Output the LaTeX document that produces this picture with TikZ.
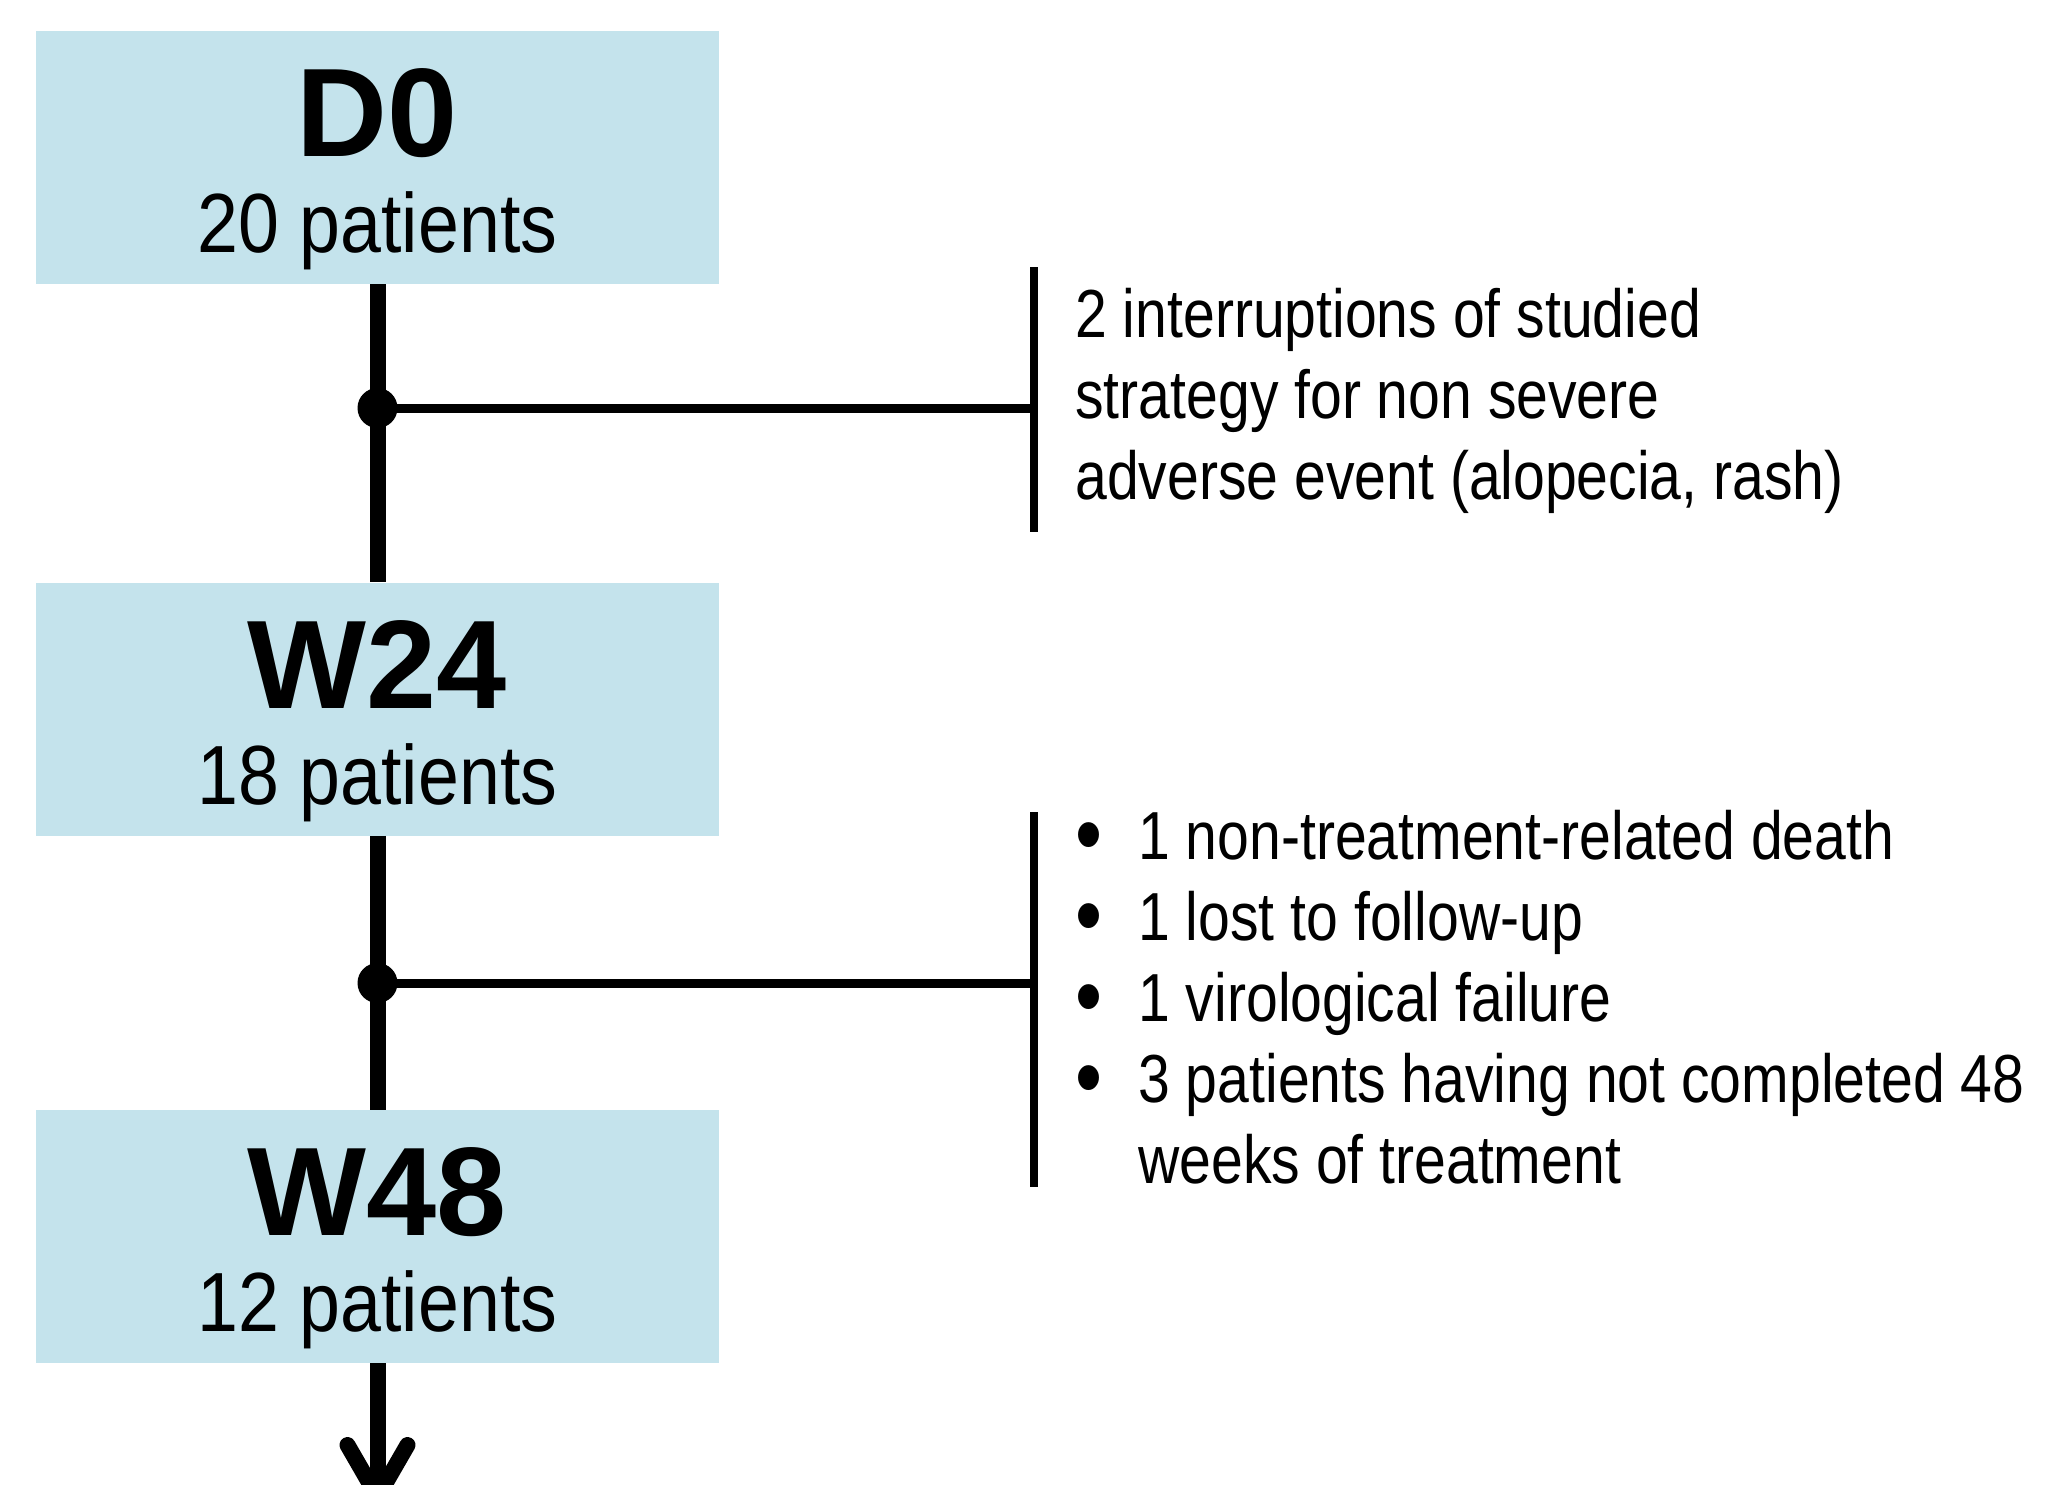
\documentclass[tikz,border=0pt]{standalone}
\usepackage{fontspec}
\usepackage{graphicx}
\usepackage{tikz}
\usetikzlibrary{arrows.meta,positioning}
\setmainfont{Liberation Sans}[FakeStretch=0.875]
\newfontfamily\stagefont{Liberation Sans}
\newfontfamily\notefamily{Liberation Sans}[FakeStretch=0.84]
\definecolor{stagefill}{HTML}{C4E3EC}
\newcommand{\stagetitle}{\stagefont\bfseries\fontsize{63}{63}\selectfont}
\newcommand{\stagecount}{\fontsize{42}{42}\selectfont}
\newcommand{\notefont}{\notefamily\fontsize{34}{40.5}\selectfont}
\newcommand{\bul}{\makebox[31.5pt][l]{\smash{\raisebox{-3pt}{\scalebox{1.35}{\textbullet}}}}}

\begin{document}
\begin{tikzpicture}[x=0.5pt,y=-0.5pt,
    stage/.style={fill=stagefill, minimum width=341.5pt, minimum height=126.5pt, inner sep=0pt},
    spine/.style={line width=8pt},
    branch/.style={line width=4.5pt},
    bracket/.style={line width=4pt},
    note/.style={anchor=base west, inner sep=0pt, font=\notefont}]
    \useasboundingbox (0,0) rectangle (2070,1484);

    % Stage boxes
    \node[stage] (d0) at (377.5,157.5) {};
    \node[stage] (w24) at (377.5,709) {};
    \node[stage] (w48) at (377.5,1236.5) {};

    % Box texts
    \node[anchor=base, font=\stagetitle] (d0t) at ([yshift=-63pt]d0.north) {D0};
    \node[anchor=base, font=\stagecount] (d0n) at ([yshift=-111pt]d0.north) {20 patients};
    \node[anchor=base, font=\stagetitle] (w24t) at ([yshift=-63pt]w24.north) {W24};
    \node[anchor=base, font=\stagecount] (w24n) at ([yshift=-111pt]w24.north) {18 patients};
    \node[anchor=base, font=\stagetitle] (w48t) at ([yshift=-63pt]w48.north) {W48};
    \node[anchor=base, font=\stagecount] (w48n) at ([yshift=-111pt]w48.north) {12 patients};

    % Time line
    \coordinate (end) at (377.5,1505);
    \draw[spine] (d0) -- (w24);
    \draw[spine] (w24) -- (w48);
    \draw[spine, -{Straight Barb[length=26pt, width=30pt, round]}] (w48) -- (end);

    % First drop-out
    \coordinate (dot1) at (377.5,408);
    \coordinate (br1) at (1034,408);
    \fill (dot1) circle (10pt);
    \draw[branch] (dot1) -- (br1);
    \draw[bracket] (1034,267) -- (1034,532);
    \node[note] (note1) at (1075,337) {\begin{tabular}[t]{@{}l@{}}
        2 interruptions of studied\\
        strategy for non severe\\
        adverse event (alopecia, rash)
    \end{tabular}};

    % Second drop-out
    \coordinate (dot2) at (377.5,983);
    \coordinate (br2) at (1034,983);
    \fill (dot2) circle (10pt);
    \draw[branch] (dot2) -- (br2);
    \draw[bracket] (1034,812) -- (1034,1187);
    \node[note] (note2) at (1075,859) {\begin{tabular}[t]{@{}l@{}l@{}}
        \bul & 1 non-treatment-related death\\
        \bul & 1 lost to follow-up\\
        \bul & 1 virological failure\\
        \bul & 3 patients having not completed 48\\
             & weeks of treatment
    \end{tabular}};
\end{tikzpicture}
\end{document}
